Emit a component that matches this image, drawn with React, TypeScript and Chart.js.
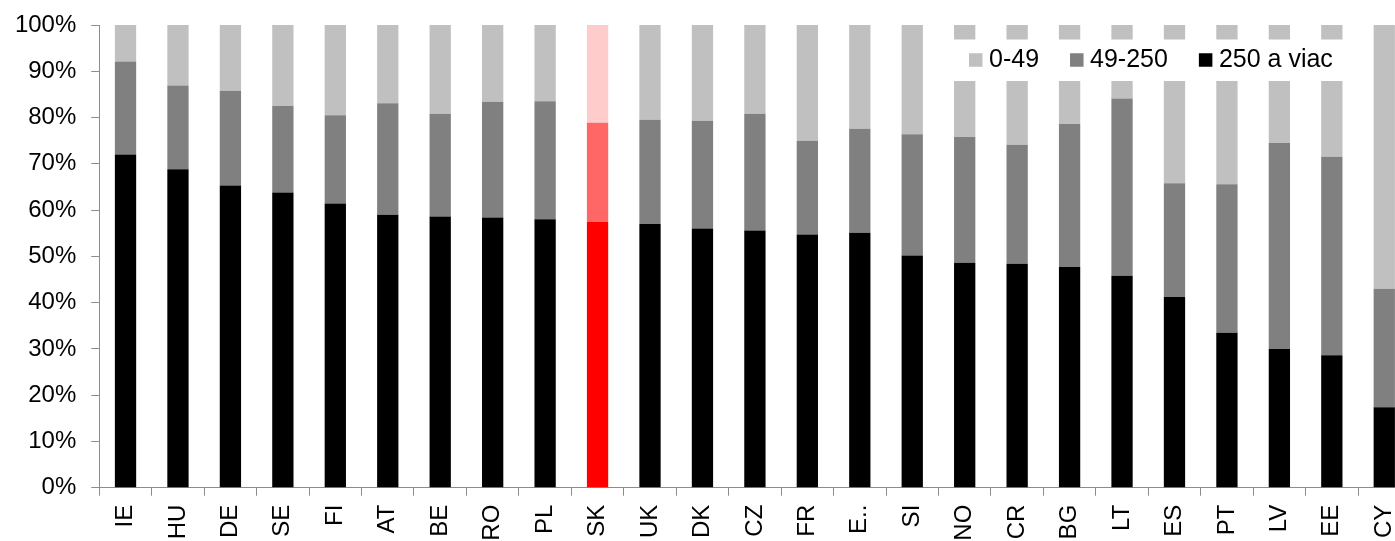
import React, { useEffect, useRef } from 'react';
import { Chart, registerables } from 'chart.js';

Chart.register(...registerables);

const categories = ['IE', 'HU', 'DE', 'SE', 'FI', 'AT', 'BE', 'RO', 'PL', 'SK', 'UK', 'DK', 'CZ', 'FR', 'E..', 'SI', 'NO', 'CR', 'BG', 'LT', 'ES', 'PT', 'LV', 'EE', 'CY'];
const large = [72, 68.8, 65.3, 63.8, 61.4, 59, 58.6, 58.4, 58, 57.5, 57, 56, 55.6, 54.7, 55.1, 50.2, 48.6, 48.4, 47.7, 45.8, 41.2, 33.5, 30, 28.6, 17.4];
const medium = [20.1, 18.1, 20.5, 18.7, 19.1, 24.1, 22.2, 25, 25.5, 21.4, 22.5, 23.3, 25.2, 20.3, 22.5, 26.2, 27.2, 25.7, 30.9, 38.3, 24.6, 32.1, 44.5, 42.9, 25.6];
const small = [7.9, 13.1, 14.2, 17.5, 19.5, 16.9, 19.2, 16.6, 16.5, 21.1, 20.5, 20.7, 19.2, 25, 22.4, 23.6, 24.2, 25.9, 21.4, 15.9, 34.2, 34.4, 25.5, 28.5, 57];
const seriesNames = ['0-49', '49-250', '250 a viac'];
const yTicks = [0, 10, 20, 30, 40, 50, 60, 70, 80, 90, 100];
const highlightCategory = 'SK';

const FONT = '"Liberation Sans", Arial, sans-serif';
const AXIS = '#8c8c8c';

function colorsFor(normal: string, hi: string) {
  return categories.map((c) => (c === highlightCategory ? hi : normal));
}

const legendPlugin = {
  id: 'boxLegend',
  afterDraw(chart: any) {
    const ctx = chart.ctx;
    ctx.save();
    ctx.fillStyle = '#ffffff';
    ctx.fillRect(948, 39.5, 402, 41.5);
    ctx.font = `25px ${FONT}`;
    ctx.textBaseline = 'middle';
    ctx.textAlign = 'left';
    const ds = chart.data.datasets;
    const order = [2, 1, 0];
    let x = 969;
    const cy = 60.5;
    const sq = 13.5;
    order.forEach((i) => {
      const d = ds[i];
      ctx.fillStyle = d.legendColor;
      ctx.fillRect(x, cy - sq / 2 - 0.5, sq, sq);
      x += sq + 6.5;
      ctx.fillStyle = '#000';
      ctx.fillText(d.label, x, cy);
      x += ctx.measureText(d.label).width + 31;
    });
    ctx.restore();
  },
};

export default function App() {
  const ref = useRef<HTMLCanvasElement | null>(null);
  useEffect(() => {
    if (!ref.current) return;
    const chart = new Chart(ref.current, {
      type: 'bar',
      data: {
        labels: categories,
        datasets: [
          {
            label: seriesNames[2],
            data: large,
            backgroundColor: colorsFor('#000000', '#ff0000'),
            legendColor: '#000000',
          } as any,
          {
            label: seriesNames[1],
            data: medium,
            backgroundColor: colorsFor('#808080', '#ff6666'),
            legendColor: '#808080',
          } as any,
          {
            label: seriesNames[0],
            data: small,
            backgroundColor: colorsFor('#c0c0c0', '#ffcccc'),
            legendColor: '#c0c0c0',
          } as any,
        ],
      },
      options: {
        responsive: false,
        animation: false,
        devicePixelRatio: 1,
        layout: { padding: { left: 0, top: 25, right: 9.5, bottom: 0 } },
        datasets: { bar: { categoryPercentage: 1, barPercentage: 0.406 } },
        plugins: { legend: { display: false }, tooltip: { enabled: false } },
        scales: {
          x: {
            stacked: true,
            grid: { display: true, drawOnChartArea: false, drawTicks: true, tickLength: 8, color: AXIS, offset: true },
            border: { display: true, color: AXIS, width: 1 },
            ticks: {
              autoSkip: false,
              minRotation: 90,
              maxRotation: 90,
              padding: 9,
              color: '#000',
              font: { family: FONT, size: 24 },
            },
            afterFit: (s: any) => {
              s.height = 560 - 487.7;
              s.paddingLeft = 0;
              s.paddingRight = 0;
            },
          },
          y: {
            stacked: true,
            min: 0,
            max: 100,
            afterBuildTicks: (s: any) => {
              s.ticks = yTicks.map((v) => ({ value: v }));
            },
            grid: { display: true, drawOnChartArea: false, drawTicks: true, tickLength: 8, color: AXIS },
            border: { display: true, color: AXIS, width: 1 },
            ticks: {
              padding: 15,
              color: '#000',
              font: { family: FONT, size: 24 },
              callback: (v: any) => `${v}%`,
            },
            afterFit: (s: any) => {
              s.width = 99.3;
              s.paddingTop = 0;
              s.paddingBottom = 0;
            },
          },
        },
      },
      plugins: [legendPlugin],
    });
    return () => chart.destroy();
  }, []);
  return (
    <div style={{ position: 'absolute', left: 0, top: 0, width: 1395, height: 541, overflow: 'hidden', background: '#fff' }}>
      <canvas ref={ref} width={1420} height={560} style={{ display: 'block' }} />
    </div>
  );
}
